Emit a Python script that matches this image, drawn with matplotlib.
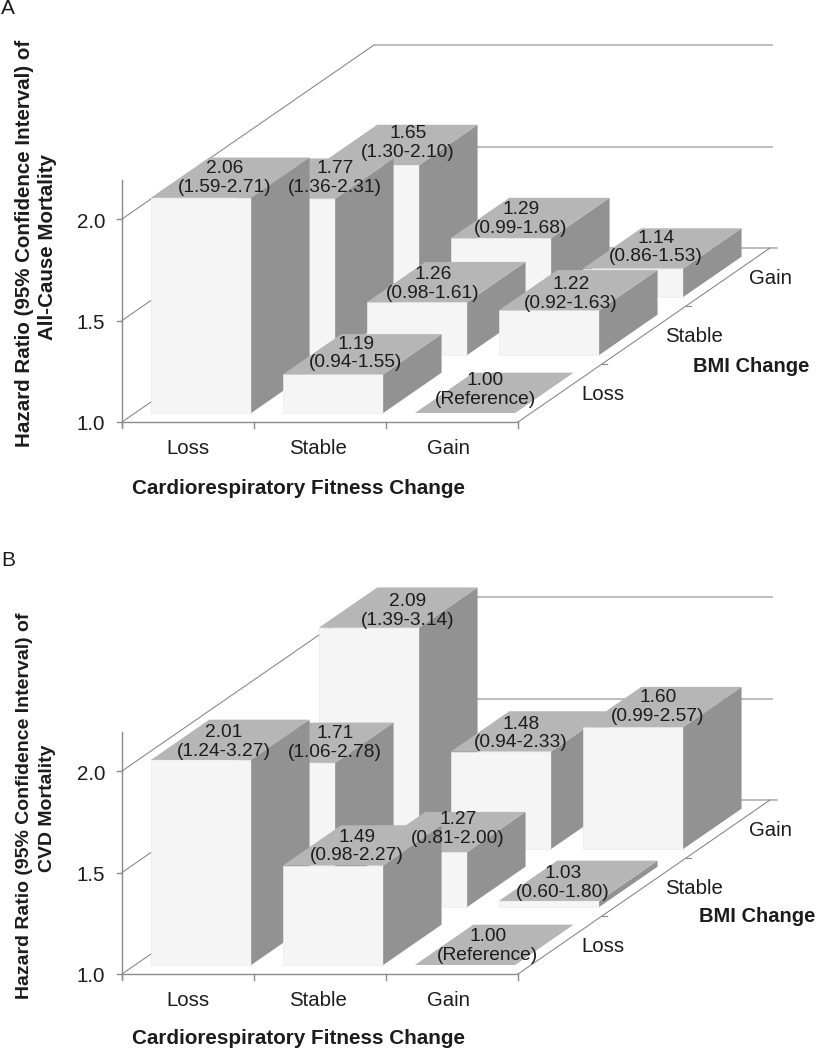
"""
Two faux-3D bar panels: hazard ratio by fitness change and BMI change.
Everything is drawn in one figure-sized axes whose data units are pixels,
project() turns (fitness position, BMI position, hazard ratio) into pixels.
"""
from matplotlib import pyplot as plt
from matplotlib.patches import Polygon

plt.rcParams['font.family'] = ['Liberation Sans', 'DejaVu Sans']

fitness_labels = ["Loss", "Stable", "Gain"]
bmi_labels = ["Loss", "Stable", "Gain"]
hr_ticks = [1.0, 1.5, 2.0]

# rows are BMI change (loss, stable, gain), columns are fitness change
hr_all_cause = [[2.06, 1.19, 1.00],
                [1.77, 1.26, 1.22],
                [1.65, 1.29, 1.14]]
ci_all_cause = [["(1.59-2.71)", "(0.94-1.55)", "(Reference)"],
                ["(1.36-2.31)", "(0.98-1.61)", "(0.92-1.63)"],
                ["(1.30-2.10)", "(0.99-1.68)", "(0.86-1.53)"]]

hr_cvd = [[2.01, 1.49, 1.00],
          [1.71, 1.27, 1.03],
          [2.09, 1.48, 1.60]]
ci_cvd = [["(1.24-3.27)", "(0.98-2.27)", "(Reference)"],
          ["(1.06-2.78)", "(0.81-2.00)", "(0.60-1.80)"],
          ["(1.39-3.14)", "(0.94-2.33)", "(0.99-2.57)"]]

# hand placed label shifts, in pixels from the centre of each bar top
nudge_a = [[(-5, 0), (-6, -1), (-9, -3)],
           [(21, -1), (-13, 2), (-7, 4)],
           [(10, -2), (-9, 1), (-6, -1)]]
nudge_b = [[(-6, 2), (-5, 1), (-6, 1)],
           [(21, 0), (12, -3), (-15, 2)],
           [(10, 3), (-9, 2), (-4, 0)]]

FRONT = "#f5f5f5"
SIDE = "#929292"
TOP = "#b6b6b6"
WALL = "#b0b0b0"
AXIS = "#8a8a8a"
INK = "#1c1c1c"

X0 = 122      # left end of the front axis
CAT_W = 132   # pixels per fitness category
DEPTH_X = 84  # pixels per BMI category, along x
DEPTH_Y = 58  # pixels per BMI category, along y
HR_PX = 203   # pixels per 1.0 of hazard ratio


def project(u, v, hr, y_base):
    return (X0 + CAT_W * u + DEPTH_X * v, y_base - DEPTH_Y * v - HR_PX * (hr - 1.0))


def draw_bar(ax, i, j, hr, y_base, z):
    u0, u1 = i + 0.12, i + 0.88
    v0, v1 = j + 0.155, j + 0.85
    p = lambda u, v, h: project(u, v, h, y_base)
    if hr > 1.0:
        ax.add_patch(Polygon([p(u0, v0, 1), p(u1, v0, 1), p(u1, v0, hr), p(u0, v0, hr)],
                             fc=FRONT, ec="#ececec", lw=0.5, zorder=z))
        ax.add_patch(Polygon([p(u1, v0, 1), p(u1, v1, 1), p(u1, v1, hr), p(u1, v0, hr)],
                             fc=SIDE, ec="none", zorder=z))
    ax.add_patch(Polygon([p(u0, v0, hr), p(u1, v0, hr), p(u1, v1, hr), p(u0, v1, hr)],
                         fc=TOP, ec="none", zorder=z))


def draw_panel(ax, hr, ci, nudge, y_base, ylabel2, bmi_title_xy, xlabel_dy, ylabel_style):
    p = lambda u, v, h: project(u, v, h, y_base)
    # back wall lines and the left wall diagonals
    for tick in hr_ticks:
        x_a, y_a = p(0, 0, tick)
        x_b, y_b = p(0, 3, tick)
        x_c, y_c = p(3, 3, tick)
        end = x_c + 7 if tick == 1.0 else x_c + 2
        ax.plot([x_a, x_b], [y_a, y_b], color=AXIS, lw=0.8, zorder=1)
        ax.plot([x_b, end], [y_b, y_c], color=WALL, lw=1.2, zorder=1)

    # floor edges
    x_a, y_a = p(0, 0, 1)
    x_b, y_b = p(3, 0, 1)
    x_c, y_c = p(3, 3, 1)
    ax.plot([x_a, x_b], [y_a, y_b], color=AXIS, lw=1.0, zorder=2)
    ax.plot([x_b, x_c], [y_b, y_c], color=AXIS, lw=0.8, zorder=2)

    # value axis
    ax.plot([X0, X0], [y_base + 5, p(0, 0, 2.0)[1] - 39], color=AXIS, lw=1.0, zorder=2)
    for tick in hr_ticks:
        x, y = p(0, 0, tick)
        ax.plot([x - 5, x], [y, y], color=AXIS, lw=1.0, zorder=2)
        ax.text(x - 17, y + 3, f"{tick:.1f}", ha="right", va="center",
                fontsize=14.8, color=INK)

    # category ticks and labels
    for i in range(len(fitness_labels) + 1):
        x, y = p(i, 0, 1)
        ax.plot([x, x], [y, y + 6], color=AXIS, lw=1.0, zorder=2)
    for i, name in enumerate(fitness_labels):
        x, y = p(i + 0.5, 0, 1)
        ax.text(x - i * 2, y + 27, name, ha="center", va="center", fontsize=14.7, color=INK)
    for j, name in enumerate(bmi_labels):
        if j:
            x, y = p(3, j, 1)
            ax.plot([x, x + 5], [y, y], color=AXIS, lw=0.8, zorder=2)
        x, y = p(3, j + 0.5, 1)
        ax.text(x + 21, y + 2, name, ha="left", va="center", fontsize=14.7, color=INK)

    # back row first, left to right, so nearer bars paint over farther ones
    z = 3
    for j in reversed(range(3)):
        for i in range(3):
            draw_bar(ax, i, j, hr[j][i], y_base, z)
            z += 1

    for j in range(3):
        for i in range(3):
            top_x, top_y = p(i + 0.5, j + 0.5, hr[j][i])
            dx, dy = nudge[j][i]
            ax.text(top_x + dx, top_y + dy, f"{hr[j][i]:.2f}\n{ci[j][i]}",
                    ha="center", va="center", multialignment="center",
                    fontsize=13.8, linespacing=1.14, color=INK, zorder=50)

    ax.text(298, y_base + xlabel_dy, "Cardiorespiratory Fitness Change", ha="center", va="center",
            fontsize=14.85, fontweight="bold", color=INK)
    ax.text(bmi_title_xy[0], bmi_title_xy[1], "BMI Change", ha="center", va="center",
            fontsize=14.5, fontweight="bold", color=INK)
    size, dy1, dy2 = ylabel_style
    ax.text(25, y_base - dy1, "Hazard Ratio (95% Confidence Interval) of", rotation=90,
            ha="center", va="center", fontsize=size, fontweight="bold", color=INK)
    ax.text(48, y_base - dy2, ylabel2, rotation=90,
            ha="center", va="center", fontsize=size, fontweight="bold", color=INK)


def main():
    fig = plt.figure(figsize=(8.16, 10.5), dpi=100, facecolor="white")
    ax = fig.add_axes([0, 0, 1, 1])
    ax.set_xlim(0, 816)
    ax.set_ylim(1050, 0)
    ax.axis("off")

    ax.text(1, 8, "A", ha="left", va="center", fontsize=15, color=INK)
    ax.text(1, 561, "B", ha="left", va="center", fontsize=15, color=INK)

    draw_panel(ax, hr_all_cause, ci_all_cause, nudge_a, 422, "All-Cause Mortality",
               (751, 367), 66, (14.75, 179, 175))
    draw_panel(ax, hr_cvd, ci_cvd, nudge_b, 974, "CVD Mortality",
               (757, 916), 64, (14.0, 168, 166))

    fig.savefig("out.png", dpi=100)


if __name__ == "__main__":
    main()
